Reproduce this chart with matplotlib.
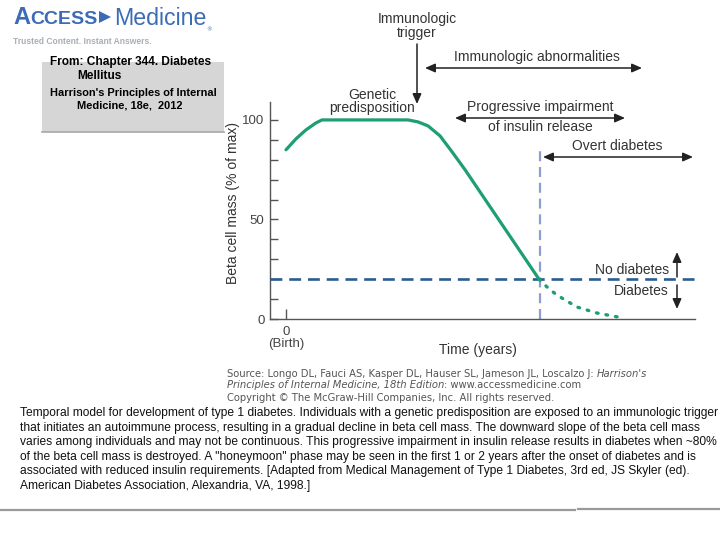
#beta cell mass over time, type 1 diabetes model (AccessMedicine slide)
import matplotlib
matplotlib.use('Agg')
import matplotlib.pyplot as plt
from matplotlib.patches import FancyArrowPatch, Rectangle, Polygon
from matplotlib.lines import Line2D

W, H = 720, 540

# curve data (time in arbitrary years units, beta cell mass in % of max)
time_years = [0, 1.0, 2.0, 3.0, 3.6, 12.2, 13.2, 14.2, 15.4, 16.6, 17.9, 21.4, 25.3]
beta_mass = [85, 90.5, 95, 98.5, 100, 100, 99, 97, 92, 84, 75, 49, 20]
honeymoon_time = [25.3, 26.2, 27.1, 29.1, 31.1, 33.2]
honeymoon_mass = [20, 15.6, 12, 6, 3, 1]
threshold = 20
onset_time = 25.4
onset_top = 85
yticks_major = [0, 50, 100]
yticks_minor = [10, 20, 30, 40, 60, 70, 80, 90]
xtick_pos = [0]
xtick_labels = ['0\n(Birth)']

caption_lines = [
    "Temporal model for development of type 1 diabetes. Individuals with a genetic predisposition are exposed to an immunologic trigger",
    "that initiates an autoimmune process, resulting in a gradual decline in beta cell mass. The downward slope of the beta cell mass",
    "varies among individuals and may not be continuous. This progressive impairment in insulin release results in diabetes when ~80%",
    "of the beta cell mass is destroyed. A \"honeymoon\" phase may be seen in the first 1 or 2 years after the onset of diabetes and is",
    "associated with reduced insulin requirements. [Adapted from Medical Management of Type 1 Diabetes, 3rd ed, JS Skyler (ed).",
    "American Diabetes Association, Alexandria, VA, 1998.]",
]

green = '#1d9e73'
navy = '#2a5d8f'
lavender = '#8d9fd2'
txt = '#333333'
blue = '#3b6cb5'

fig = plt.figure(figsize=(W / 100, H / 100), dpi=100)
fig.patch.set_facecolor('white')
renderer = fig.canvas.get_renderer()


def fx(x):
    return x / W


def fy(y):
    return 1 - y / H


def width_of(t):
    return t.get_window_extent(renderer).width


def fit_size(s, target, **kw):
    t = fig.text(0, 0, s, fontsize=10, **kw)
    w = width_of(t)
    t.remove()
    return 10 * target / w


def arrow(x0, y0, x1, y1, style='<|-|>'):
    a = FancyArrowPatch((fx(x0), fy(y0)), (fx(x1), fy(y1)), transform=fig.transFigure,
                        arrowstyle=style + ',head_length=0.5,head_width=0.22',
                        mutation_scale=12, lw=1.1, color='#222222', shrinkA=0, shrinkB=0)
    fig.add_artist(a)


# ---- chart ----
ax = fig.add_axes([fx(270), fy(319), 425 / W, 217 / H])
ax.set_xlim(-1.6, 40.9)
ax.set_ylim(0, 109)
ax.plot(time_years, beta_mass, color=green, lw=2.3, solid_capstyle='round', zorder=4)
ax.plot(honeymoon_time, honeymoon_mass, color=green, lw=2.4, ls=(0, (0.5, 2.4)),
        dash_capstyle='round', zorder=4)
ax.axhline(threshold, color=navy, lw=1.9, ls=(0, (4.5, 2.6)), zorder=3)
ax.plot([onset_time, onset_time], [0, onset_top], color=lavender, lw=1.6,
        ls=(0, (4.5, 2.6)), zorder=2)

for s in ['top', 'right']:
    ax.spines[s].set_visible(False)
for s in ['left', 'bottom']:
    ax.spines[s].set_color('#555555')
    ax.spines[s].set_linewidth(1.0)

ax.set_yticks(yticks_major)
ax.set_yticks(yticks_minor, minor=True)
ax.tick_params(axis='y', which='both', direction='in', length=6, width=1, color='#555555',
               labelsize=9.5, labelcolor='#444444', pad=4)
ax.set_xticks(xtick_pos)
ax.set_xticklabels(xtick_labels, linespacing=1.0)
ax.tick_params(axis='x', direction='in', length=7, width=1, color='#555555',
               labelsize=9.5, labelcolor='#444444', pad=5)
for lab in ax.get_yticklabels() + ax.get_xticklabels():
    lab.set_family('Liberation Sans')

fig.text(fx(478), fy(350), 'Time (years)', ha='center', va='center', fontsize=10,
         color=txt, family='Liberation Sans')
fig.text(fx(233), fy(203), 'Beta cell mass (% of max)', ha='center', va='center',
         rotation=90, fontsize=10, color=txt, family='Liberation Sans')

# ---- diagram labels ----
labels = [
    ('Immunologic', 417, 19, 'center'),
    ('trigger', 417, 33, 'center'),
    ('Immunologic abnormalities', 537, 57, 'center'),
    ('Genetic', 372, 95, 'center'),
    ('predisposition', 372, 108, 'center'),
    ('Progressive impairment', 540, 107, 'center'),
    ('of insulin release', 540, 127, 'center'),
    ('Overt diabetes', 617, 146, 'center'),
    ('No diabetes', 669, 270, 'right'),
    ('Diabetes', 669, 291, 'right'),
]
for s, x, y, ha in labels:
    fig.text(fx(x), fy(y), s, ha=ha, va='center', fontsize=10, color=txt, family='Liberation Sans')

arrow(417, 44, 417, 104, '-|>')
arrow(425, 68, 642, 68)
arrow(455, 118, 625, 118)
arrow(543, 157, 693, 157)
arrow(677, 277, 677, 252, '-|>')
arrow(677, 285, 677, 309, '-|>')

# ---- header ----
fig.add_artist(Rectangle((fx(42), fy(132)), 182 / W, 70 / H, transform=fig.transFigure,
                         facecolor='#d6d6d6', edgecolor='none', zorder=0))
fig.add_artist(Line2D([fx(42), fx(224)], [fy(132), fy(132)], transform=fig.transFigure,
                      color='#a8a8a8', lw=1.2))
fig.text(fx(50), fy(62), 'From: Chapter 344. Diabetes', fontsize=8.6, weight='bold',
         va='center', family='Liberation Sans')
fig.text(fx(77), fy(76), 'Mellitus', fontsize=8.6, weight='bold', va='center', family='Liberation Sans')
fig.text(fx(50), fy(93), "Harrison's Principles of Internal", fontsize=7.9, weight='bold',
         va='center', family='Liberation Sans')
fig.text(fx(77), fy(106), 'Medicine, 18e,  2012', fontsize=7.9, weight='bold',
         va='center', family='Liberation Sans')

# logo
ta = fig.text(fx(13), fy(24), 'A', fontsize=17, weight='bold', color=blue,
              va='baseline', family='Liberation Sans')
x_next = 13 + width_of(ta)
fig.text(fx(x_next), fy(24), 'CCESS', fontsize=fit_size('CCESS', 97 - x_next, weight='bold',
                                                       family='Liberation Sans'),
         weight='bold', color=blue, va='baseline', family='Liberation Sans')
fig.add_artist(Polygon([[fx(99), fy(11)], [fx(99), fy(23)], [fx(111), fy(17)]],
                       closed=True, transform=fig.transFigure, facecolor=blue, edgecolor='none'))
fig.text(fx(114), fy(25), 'Medicine', fontsize=fit_size('Medicine', 93, family='Liberation Sans'),
         color=blue, va='baseline', family='Liberation Sans')
fig.text(fx(206), fy(30), '®', fontsize=4, color=blue, va='center', family='DejaVu Sans')
tag = 'Trusted Content. Instant Answers.'
fig.text(fx(13), fy(42), tag, fontsize=fit_size(tag, 139, weight='bold', family='Liberation Sans'),
         weight='bold', color='#a9aeb5', va='center', family='Liberation Sans')

# ---- source / copyright ----
src_kw = dict(family='DejaVu Sans', color='#555555', va='center')
s1a = 'Source: Longo DL, Fauci AS, Kasper DL, Hauser SL, Jameson JL, Loscalzo J: '
s1b = "Harrison's"
probe = fig.text(0, 0, s1a, fontsize=10, family='DejaVu Sans')
probe2 = fig.text(0, 0, s1b, fontsize=10, family='DejaVu Sans', style='italic')
src_size = 10 * 421 / (width_of(probe) + width_of(probe2))
probe.remove()
probe2.remove()


def mixed_line(parts, x, y):
    for s, st in parts:
        t = fig.text(fx(x), fy(y), s, fontsize=src_size, style=st, **src_kw)
        x += width_of(t)


mixed_line([(s1a, 'normal'), (s1b, 'italic')], 227, 374)
mixed_line([('Principles of Internal Medicine, 18th Edition', 'italic'),
            (': www.accessmedicine.com', 'normal')], 227, 385)
mixed_line([('Copyright \u00a9 The McGraw-Hill Companies, Inc. All rights reserved.', 'normal')], 227, 398)

# ---- caption ----
cap_size = fit_size(caption_lines[0], 698, family='Liberation Sans')
cap_y = [413, 428, 442, 457, 471, 486]
for line, y in zip(caption_lines, cap_y):
    fig.text(fx(20), fy(y), line, fontsize=cap_size, va='center', color='#111111',
             family='Liberation Sans')

fig.add_artist(Line2D([0, fx(575)], [fy(510), fy(510)], transform=fig.transFigure,
                      color='#9a9a9a', lw=1.6))
fig.add_artist(Line2D([fx(578), 1], [fy(508.5), fy(508.5)], transform=fig.transFigure,
                      color='#9a9a9a', lw=1.6))

fig.savefig('out.png', dpi=100)
